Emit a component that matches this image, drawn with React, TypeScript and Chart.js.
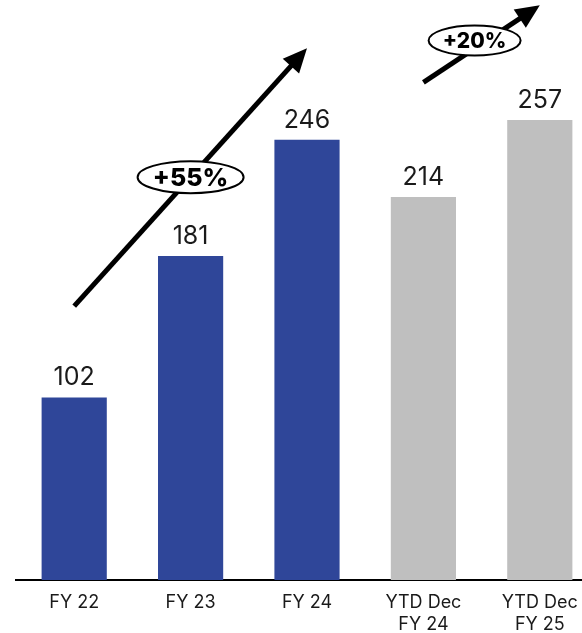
import { useEffect, useRef } from 'react';
import { Chart, registerables } from 'chart.js';

Chart.register(...registerables);

const categories: string[][] = [['FY 22'], ['FY 23'], ['FY 24'], ['YTD Dec', 'FY 24'], ['YTD Dec', 'FY 25']];
const values = [102, 181, 246, 214, 257];
const barColors = ['#2F4699', '#2F4699', '#2F4699', '#BFBFBF', '#BFBFBF'];

// Growth arrows: start/end category index and the value level each end sits at
const growthFrom = [0, 3];
const growthTo = [2, 4];
const growthFromLevel = [153, 278];
const growthToLevel = [297, 321];
const growthLabels = ['+55%', '+20%'];

const FONT = 'Inter, "Noto Sans", sans-serif';

const overlay = {
  id: 'overlay',
  afterDatasetsDraw(chart: Chart) {
    const ctx = chart.ctx;
    const meta = chart.getDatasetMeta(0);
    ctx.save();
    ctx.fillStyle = '#1a1a1a';
    ctx.font = `400 25px ${FONT}`;
    ctx.textAlign = 'center';
    ctx.textBaseline = 'bottom';
    meta.data.forEach((bar: any, i: number) => {
      ctx.fillText(String(values[i]), bar.x, bar.y - 7);
    });
    ctx.restore();

    const xs = chart.scales.x;
    const ys = chart.scales.y;
    growthLabels.forEach((label, k) => {
      const x1 = xs.getPixelForValue(growthFrom[k]);
      const y1 = ys.getPixelForValue(growthFromLevel[k]);
      const x2 = xs.getPixelForValue(growthTo[k]);
      const y2 = ys.getPixelForValue(growthToLevel[k]);
      const ang = Math.atan2(y2 - y1, x2 - x1);
      const head = 24;
      const half = 11;
      ctx.save();
      ctx.strokeStyle = '#000';
      ctx.fillStyle = '#000';
      ctx.lineWidth = 5;
      ctx.beginPath();
      ctx.moveTo(x1, y1);
      ctx.lineTo(x2 - Math.cos(ang) * (head - 4), y2 - Math.sin(ang) * (head - 4));
      ctx.stroke();
      const bx = x2 - Math.cos(ang) * head;
      const by = y2 - Math.sin(ang) * head;
      ctx.beginPath();
      ctx.moveTo(x2, y2);
      ctx.lineTo(bx + Math.sin(ang) * half, by - Math.cos(ang) * half);
      ctx.lineTo(bx - Math.sin(ang) * half, by + Math.cos(ang) * half);
      ctx.closePath();
      ctx.fill();

      const big = k === 0;
      const t = big ? 0.5 : 0.44;
      const cx = x1 + (x2 - x1) * t;
      const cy = y1 + (y2 - y1) * t - (big ? 0 : 8);
      const rx = big ? 53 : 46;
      const ry = big ? 16 : 15;
      ctx.beginPath();
      ctx.ellipse(cx, cy, rx, ry, 0, 0, Math.PI * 2);
      ctx.fillStyle = '#fff';
      ctx.fill();
      ctx.lineWidth = 2;
      ctx.strokeStyle = '#000';
      ctx.stroke();
      ctx.fillStyle = '#000';
      ctx.font = `800 ${big ? 25 : 21}px ${FONT}`;
      ctx.textAlign = 'center';
      ctx.textBaseline = 'middle';
      ctx.fillText(label, cx, cy + 1);
      ctx.restore();
    });
  },
};

export default function App() {
  const ref = useRef<HTMLCanvasElement>(null);
  useEffect(() => {
    if (!ref.current) return;
    const chart = new Chart(ref.current, {
      type: 'bar',
      data: {
        labels: categories,
        datasets: [
          {
            data: values,
            backgroundColor: barColors,
            categoryPercentage: 1,
            barPercentage: 0.56,
          },
        ],
      },
      options: {
        animation: false,
        responsive: false,
        maintainAspectRatio: false,
        layout: { padding: { left: 16, right: 2, top: 0, bottom: 0 } },
        plugins: { legend: { display: false }, tooltip: { enabled: false } },
        scales: {
          x: {
            grid: { display: false, drawTicks: false },
            border: { display: true, color: '#000', width: 2 },
            ticks: {
              color: '#1a1a1a',
              padding: 12,
              font: { family: FONT, size: 18, lineHeight: 1.22 },
              maxRotation: 0,
              autoSkip: false,
            },
            afterFit: (scale: any) => {
              scale.height = 53;
            },
          },
          y: {
            display: false,
            min: 0,
            max: 324,
          },
        },
      },
      plugins: [overlay],
    });
    return () => chart.destroy();
  }, []);

  return (
    <div style={{ position: 'fixed', inset: 0, overflow: 'hidden', background: '#fff' }}>
      <canvas ref={ref} width={600} height={633} style={{ position: 'absolute', left: 0, top: 0 }} />
    </div>
  );
}
